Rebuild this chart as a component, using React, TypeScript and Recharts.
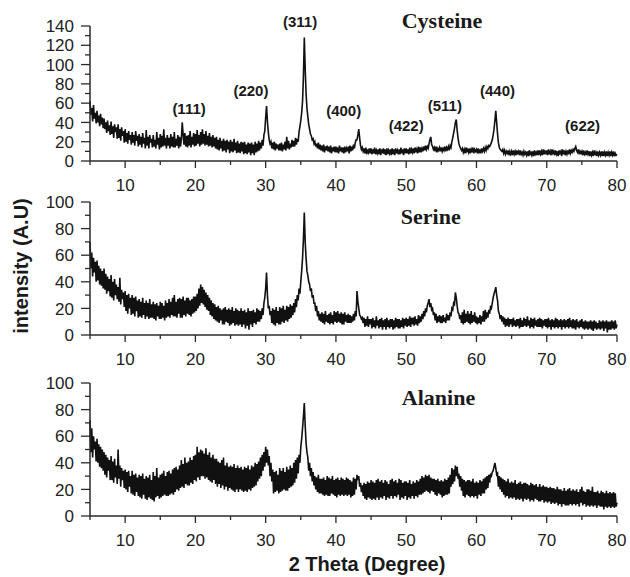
import React from "react";
import { LineChart, Line, XAxis, YAxis, ReferenceDot } from "recharts";

// 2-theta grid: 5 to 80 degrees, 0.125 degree step (8 readings per degree)
const THETA_START = 5;
const THETA_STEP = 0.125;

// readings, one line per degree (5, 6, ... 79) and the closing 80 value
const cysteine = [
  62, 48, 55, 41, 58, 44, 50, 39,
  52, 40, 47, 36, 49, 38, 45, 34,
  44, 33, 40, 29, 42, 31, 37, 27,
  41, 28, 36, 24, 38, 30, 35, 23,
  38, 24, 33, 21, 35, 26, 31, 19,
  33, 20, 29, 18, 31, 22, 27, 17,
  30, 19, 27, 16, 31, 21, 26, 15,
  28, 17, 25, 14, 29, 18, 24, 13,
  32, 16, 25, 13, 27, 19, 23, 14,
  27, 15, 22, 13, 30, 17, 24, 12,
  28, 14, 26, 15, 33, 16, 24, 13,
  27, 16, 24, 13, 28, 15, 25, 14,
  30, 14, 23, 16, 27, 13, 25, 15,
  22, 40, 28, 17, 29, 15, 26, 14,
  27, 16, 31, 14, 25, 17, 29, 15,
  28, 16, 32, 18, 27, 15, 30, 17,
  33, 18, 28, 16, 31, 17, 26, 15,
  29, 16, 25, 14, 27, 15, 24, 13,
  25, 12, 22, 11, 24, 13, 21, 10,
  23, 11, 21, 9, 22, 12, 20, 8,
  22, 10, 20, 9, 23, 11, 19, 8,
  21, 9, 18, 8, 20, 10, 19, 7,
  20, 8, 17, 7, 19, 9, 18, 6,
  19, 8, 17, 6, 20, 9, 18, 10,
  21, 11, 19, 13, 22, 16, 27, 31,
  45, 57, 41, 30, 22, 18, 20, 13,
  19, 12, 20, 11, 18, 13, 17, 11,
  18, 11, 19, 10, 17, 12, 20, 11,
  25, 13, 21, 12, 18, 14, 22, 15,
  21, 15, 24, 17, 23, 20, 30, 36,
  42, 50, 62, 88, 128, 96, 70, 55,
  46, 38, 33, 28, 26, 22, 23, 18,
  20, 15, 18, 13, 19, 12, 17, 11,
  16, 10, 17, 9, 15, 11, 16, 10,
  15, 9, 16, 8, 14, 10, 15, 9,
  15, 9, 14, 8, 16, 10, 14, 9,
  14, 8, 15, 9, 13, 10, 15, 8,
  16, 10, 15, 11, 17, 13, 19, 22,
  22, 27, 33, 24, 16, 12, 14, 10,
  13, 8, 14, 7, 12, 9, 13, 8,
  13, 7, 12, 8, 14, 7, 11, 8,
  12, 7, 13, 6, 12, 8, 13, 7,
  12, 6, 13, 7, 11, 8, 12, 6,
  13, 7, 12, 6, 13, 8, 11, 7,
  12, 7, 14, 8, 12, 6, 13, 8,
  13, 8, 12, 7, 14, 8, 12, 9,
  13, 8, 14, 9, 12, 8, 15, 9,
  14, 9, 13, 10, 15, 11, 16, 12,
  15, 13, 18, 22, 25, 17, 15, 12,
  14, 10, 15, 9, 13, 11, 14, 10,
  14, 10, 13, 11, 15, 10, 14, 12,
  15, 11, 16, 14, 20, 24, 29, 34,
  40, 43, 32, 24, 18, 15, 13, 11,
  13, 9, 12, 8, 14, 10, 12, 9,
  13, 8, 12, 9, 14, 8, 12, 10,
  12, 8, 13, 9, 11, 8, 13, 10,
  13, 10, 14, 11, 15, 13, 16, 15,
  17, 19, 22, 27, 33, 42, 52, 40,
  28, 19, 14, 12, 11, 10, 12, 8,
  11, 7, 10, 8, 11, 6, 10, 7,
  10, 6, 11, 7, 10, 6, 11, 8,
  10, 6, 11, 7, 9, 6, 10, 7,
  9, 6, 10, 5, 11, 7, 9, 6,
  10, 5, 11, 7, 9, 6, 11, 6,
  11, 7, 10, 6, 12, 7, 10, 8,
  11, 6, 12, 7, 10, 6, 12, 8,
  10, 6, 11, 7, 10, 5, 11, 8,
  10, 5, 12, 7, 11, 6, 10, 7,
  11, 7, 12, 8, 11, 9, 12, 10,
  13, 15, 11, 9, 12, 7, 10, 8,
  10, 6, 11, 7, 9, 6, 11, 7,
  10, 5, 10, 6, 9, 5, 11, 6,
  9, 5, 10, 6, 9, 6, 10, 5,
  10, 5, 9, 6, 10, 5, 9, 6,
  10, 5, 9, 6, 10, 5, 8, 6,
  7,
];

const serine = [
  70, 50, 62, 44, 58, 47, 55, 40,
  56, 41, 52, 38, 50, 37, 48, 35,
  50, 34, 46, 31, 44, 33, 42, 29,
  45, 28, 40, 26, 42, 30, 38, 27,
  36, 25, 43, 23, 34, 27, 32, 21,
  33, 18, 30, 16, 31, 20, 28, 15,
  30, 16, 28, 14, 29, 18, 26, 13,
  27, 14, 25, 13, 28, 15, 24, 12,
  26, 14, 24, 12, 27, 13, 23, 13,
  25, 12, 23, 11, 24, 14, 22, 12,
  25, 12, 24, 13, 22, 11, 26, 13,
  24, 14, 27, 13, 25, 15, 28, 14,
  30, 14, 25, 13, 27, 16, 28, 13,
  27, 13, 29, 15, 26, 14, 28, 16,
  28, 15, 26, 14, 27, 16, 29, 17,
  29, 18, 31, 20, 35, 22, 38, 24,
  36, 23, 34, 21, 32, 19, 30, 18,
  28, 15, 26, 14, 24, 12, 23, 11,
  21, 10, 22, 9, 20, 11, 19, 8,
  20, 8, 21, 10, 19, 9, 20, 7,
  19, 8, 21, 9, 18, 7, 20, 8,
  19, 7, 18, 8, 20, 6, 18, 8,
  19, 5, 17, 7, 20, 4, 18, 8,
  18, 6, 19, 9, 17, 8, 20, 10,
  19, 10, 18, 12, 20, 15, 24, 28,
  35, 47, 30, 20, 22, 15, 18, 9,
  20, 8, 19, 7, 21, 9, 18, 8,
  21, 8, 20, 10, 22, 9, 19, 11,
  22, 10, 21, 12, 23, 13, 22, 15,
  24, 17, 27, 21, 30, 26, 35, 31,
  40, 48, 58, 72, 92, 70, 58, 48,
  45, 40, 38, 33, 35, 28, 30, 24,
  24, 18, 22, 14, 18, 11, 16, 10,
  17, 9, 16, 8, 18, 10, 15, 9,
  16, 8, 17, 9, 15, 8, 18, 10,
  17, 9, 18, 10, 16, 9, 17, 8,
  16, 8, 17, 10, 15, 9, 16, 9,
  15, 9, 14, 10, 16, 11, 18, 14,
  33, 25, 20, 15, 14, 12, 13, 9,
  13, 6, 12, 7, 14, 6, 12, 8,
  12, 5, 13, 6, 11, 5, 14, 7,
  11, 5, 12, 6, 13, 4, 11, 6,
  12, 4, 13, 6, 11, 5, 12, 6,
  12, 4, 11, 5, 13, 6, 12, 5,
  12, 5, 11, 6, 13, 5, 12, 7,
  13, 6, 12, 7, 14, 6, 13, 8,
  13, 7, 14, 8, 12, 7, 15, 9,
  14, 10, 16, 12, 18, 14, 20, 17,
  22, 24, 27, 21, 24, 19, 20, 15,
  17, 11, 16, 9, 14, 10, 15, 9,
  14, 9, 15, 10, 13, 9, 16, 11,
  15, 11, 17, 14, 20, 19, 24, 23,
  32, 28, 22, 17, 16, 12, 15, 9,
  17, 8, 19, 9, 16, 10, 18, 9,
  16, 8, 18, 9, 15, 10, 17, 9,
  14, 8, 13, 9, 15, 8, 14, 10,
  18, 10, 19, 12, 17, 13, 19, 16,
  21, 20, 24, 28, 31, 33, 36, 30,
  26, 18, 16, 12, 15, 10, 14, 8,
  13, 6, 12, 7, 13, 6, 12, 8,
  12, 6, 13, 7, 11, 6, 12, 7,
  12, 5, 13, 6, 11, 6, 13, 7,
  12, 6, 14, 7, 11, 5, 13, 6,
  12, 5, 13, 7, 11, 6, 12, 6,
  13, 6, 12, 5, 11, 7, 12, 6,
  12, 5, 13, 6, 11, 4, 12, 6,
  11, 5, 13, 6, 12, 5, 11, 6,
  12, 4, 11, 6, 12, 5, 11, 6,
  12, 5, 13, 6, 11, 5, 12, 5,
  11, 4, 12, 6, 10, 5, 11, 6,
  12, 5, 10, 4, 11, 5, 10, 4,
  10, 5, 11, 4, 10, 3, 11, 5,
  10, 4, 9, 5, 11, 4, 10, 5,
  11, 3, 10, 5, 11, 2, 10, 4,
  10, 4, 11, 5, 10, 4, 11, 5,
  8,
];

const alanine = [
  72, 48, 66, 44, 60, 50, 56, 41,
  58, 40, 54, 37, 52, 36, 50, 34,
  48, 31, 46, 29, 44, 34, 42, 27,
  45, 27, 41, 25, 43, 29, 38, 24,
  50, 28, 38, 22, 36, 27, 34, 21,
  35, 20, 33, 18, 34, 22, 30, 17,
  34, 16, 31, 15, 32, 18, 29, 15,
  31, 14, 30, 13, 32, 16, 28, 13,
  30, 12, 29, 14, 31, 13, 27, 12,
  33, 11, 30, 14, 36, 15, 29, 13,
  31, 14, 32, 15, 34, 16, 30, 15,
  33, 15, 34, 16, 32, 17, 35, 16,
  36, 18, 37, 20, 35, 19, 38, 21,
  42, 22, 39, 21, 44, 24, 40, 23,
  41, 23, 44, 25, 42, 24, 45, 27,
  46, 26, 52, 29, 48, 27, 50, 30,
  49, 30, 47, 28, 51, 29, 46, 27,
  48, 26, 44, 25, 46, 27, 43, 24,
  43, 22, 41, 24, 40, 21, 42, 23,
  44, 20, 38, 22, 40, 19, 37, 21,
  38, 20, 37, 19, 39, 18, 36, 20,
  38, 18, 36, 20, 37, 19, 35, 18,
  37, 19, 36, 18, 38, 20, 35, 19,
  38, 21, 37, 22, 40, 23, 39, 26,
  41, 28, 44, 30, 46, 34, 48, 37,
  52, 40, 50, 38, 45, 30, 40, 26,
  35, 17, 33, 18, 34, 19, 31, 17,
  36, 18, 34, 19, 36, 20, 33, 19,
  37, 19, 35, 21, 38, 22, 36, 23,
  40, 25, 42, 28, 44, 32, 46, 40,
  52, 58, 66, 75, 85, 68, 55, 48,
  44, 34, 40, 30, 36, 26, 33, 23,
  30, 20, 29, 18, 31, 17, 28, 17,
  28, 16, 29, 15, 27, 16, 30, 15,
  29, 15, 28, 17, 30, 16, 27, 15,
  28, 14, 29, 16, 27, 15, 29, 16,
  28, 15, 27, 16, 29, 15, 28, 16,
  27, 14, 26, 15, 29, 16, 28, 20,
  31, 27, 30, 22, 25, 18, 23, 15,
  25, 13, 24, 12, 26, 14, 25, 13,
  27, 12, 26, 13, 25, 12, 27, 14,
  28, 12, 26, 14, 27, 13, 25, 15,
  27, 12, 26, 14, 24, 13, 27, 15,
  28, 13, 26, 15, 27, 14, 25, 16,
  28, 12, 27, 14, 25, 13, 26, 15,
  26, 12, 25, 14, 27, 13, 24, 15,
  26, 13, 25, 15, 27, 14, 26, 16,
  28, 16, 30, 17, 29, 18, 31, 19,
  30, 18, 31, 17, 29, 19, 28, 18,
  28, 16, 27, 15, 28, 17, 26, 16,
  27, 14, 26, 15, 28, 16, 27, 16,
  29, 17, 31, 22, 36, 24, 35, 26,
  38, 30, 37, 28, 32, 22, 30, 19,
  28, 15, 27, 14, 26, 16, 27, 15,
  27, 14, 26, 15, 28, 14, 25, 15,
  26, 13, 25, 16, 27, 15, 26, 17,
  28, 17, 29, 20, 30, 21, 31, 25,
  31, 30, 33, 34, 37, 40, 36, 31,
  32, 22, 30, 20, 29, 18, 28, 16,
  27, 14, 26, 15, 28, 13, 25, 14,
  26, 13, 25, 14, 27, 12, 24, 13,
  25, 12, 26, 13, 24, 11, 25, 13,
  25, 12, 24, 13, 23, 11, 25, 12,
  24, 11, 23, 13, 24, 12, 22, 11,
  24, 11, 22, 12, 23, 10, 22, 11,
  22, 10, 21, 11, 22, 9, 21, 10,
  21, 9, 20, 10, 22, 8, 20, 9,
  20, 7, 19, 9, 21, 8, 19, 8,
  20, 8, 21, 9, 19, 8, 20, 9,
  19, 8, 20, 9, 18, 7, 20, 10,
  22, 8, 19, 9, 18, 7, 20, 8,
  20, 7, 19, 8, 22, 7, 18, 8,
  18, 6, 19, 8, 17, 7, 19, 7,
  18, 5, 17, 7, 19, 6, 17, 7,
  18, 6, 17, 7, 18, 6, 17, 7,
  10,
];

const xTicks = [5, 10, 15, 20, 25, 30, 35, 40, 45, 50, 55, 60, 65, 70, 75, 80];
const yTicksTop = [0, 10, 20, 30, 40, 50, 60, 70, 80, 90, 100, 110, 120, 130, 140];
const yTicksLow = [0, 10, 20, 30, 40, 50, 60, 70, 80, 90, 100];

// Miller indices written above the Cysteine peaks (label centre in data units)
const millerLabels = ["(111)", "(220)", "(311)", "(400)", "(422)", "(511)", "(440)", "(622)"];
const millerTheta = [19.1, 27.9, 34.9, 41.1, 50.0, 55.5, 63.0, 75.1];
const millerY = [54, 73, 144, 52, 37, 57.5, 73, 37];

const SANS = "'Liberation Sans', Arial, sans-serif";
const SERIF = "'Liberation Serif', 'Times New Roman', serif";
const AXIS = "#2a2a2a";

const toRows = (values: number[]) =>
  values.map((v, i) => ({ theta: THETA_START + i * THETA_STEP, v }));

function XTick(props: any) {
  const { x, y, payload } = props;
  const major = payload.value % 10 === 0;
  return (
    <g>
      <line x1={x} x2={x} y1={y} y2={y + (major ? 7 : 4)} stroke={AXIS} strokeWidth={1.3} />
      {major && (
        <text x={x} y={y + 30} textAnchor="middle" fontSize={17} fontFamily={SANS} fill="#222">
          {payload.value}
        </text>
      )}
    </g>
  );
}

function YTick(props: any) {
  const { x, y, payload } = props;
  const major = payload.value % 20 === 0;
  return (
    <g>
      <line x1={x - (major ? 9 : 5)} x2={x} y1={y} y2={y} stroke={AXIS} strokeWidth={1.3} />
      {major && (
        <text x={x - 16} y={y} dy="0.36em" textAnchor="end" fontSize={17} fontFamily={SANS} fill="#222">
          {payload.value}
        </text>
      )}
    </g>
  );
}

interface PanelProps {
  values: number[];
  name: string;
  nameTheta: number;
  nameY: number;
  yMax: number;
  yTicks: number[];
  top: number;
  bottom: number;
  children?: React.ReactNode;
}

function Panel({ values, name, nameTheta, nameY, yMax, yTicks, top, bottom, children }: PanelProps) {
  return (
    <LineChart
      width={630}
      height={577}
      data={toRows(values)}
      margin={{ top, right: 13, bottom: 577 - bottom - 35, left: 40 }}
      style={{ position: "absolute", left: 0, top: 0 }}
    >
      <XAxis
        dataKey="theta"
        type="number"
        domain={[5, 80]}
        ticks={xTicks}
        interval={0}
        height={35}
        tickSize={0}
        tickMargin={0}
        tickLine={false}
        axisLine={{ stroke: AXIS, strokeWidth: 1.5 }}
        tick={<XTick />}
      />
      <YAxis
        type="number"
        domain={[0, yMax]}
        ticks={yTicks}
        interval={0}
        width={50}
        tickSize={0}
        tickMargin={0}
        tickLine={false}
        axisLine={{ stroke: AXIS, strokeWidth: 1.5 }}
        tick={<YTick />}
      />
      <Line
        type="linear"
        dataKey="v"
        stroke="#111"
        strokeWidth={1.6}
        dot={false}
        isAnimationActive={false}
      />
      <ReferenceDot
        x={nameTheta}
        y={nameY}
        r={0}
        fill="none"
        stroke="none"
        ifOverflow="visible"
        label={{
          value: name,
          position: "center",
          fontSize: 22,
          fontWeight: 700,
          fontFamily: SERIF,
          fill: "#1a1a1a",
        }}
      />
      {children}
    </LineChart>
  );
}

export default function App() {
  return (
    <div
      style={{
        position: "absolute",
        left: 0,
        top: 0,
        width: 630,
        height: 577,
        background: "#fff",
        overflow: "hidden",
      }}
    >
      <Panel
        values={cysteine}
        name="Cysteine"
        nameTheta={55.1}
        nameY={146}
        yMax={140}
        yTicks={yTicksTop}
        top={26}
        bottom={161}
      >
        {millerLabels.map((label, i) => (
          <ReferenceDot
            key={label}
            x={millerTheta[i]}
            y={millerY[i]}
            r={0}
            fill="none"
            stroke="none"
            ifOverflow="visible"
            label={{
              value: label,
              position: "center",
              fontSize: 15,
              fontWeight: 700,
              fontFamily: SANS,
              fill: "#1a1a1a",
            }}
          />
        ))}
      </Panel>
      <Panel
        values={serine}
        name="Serine"
        nameTheta={53.5}
        nameY={89}
        yMax={100}
        yTicks={yTicksLow}
        top={202}
        bottom={335}
      />
      <Panel
        values={alanine}
        name="Alanine"
        nameTheta={54.6}
        nameY={89.5}
        yMax={100}
        yTicks={yTicksLow}
        top={383}
        bottom={516}
      />
      <svg
        width={630}
        height={577}
        style={{ position: "absolute", left: 0, top: 0, pointerEvents: "none" }}
      >
        <text
          x={28}
          y={266}
          transform="rotate(-90 28 266)"
          textAnchor="middle"
          fontSize={20}
          fontWeight={700}
          fontFamily={SANS}
          fill="#1a1a1a"
        >
          intensity (A.U)
        </text>
        <text
          x={367}
          y={571}
          textAnchor="middle"
          fontSize={20}
          fontWeight={700}
          fontFamily={SANS}
          fill="#1a1a1a"
        >
          2 Theta (Degree)
        </text>
      </svg>
    </div>
  );
}
